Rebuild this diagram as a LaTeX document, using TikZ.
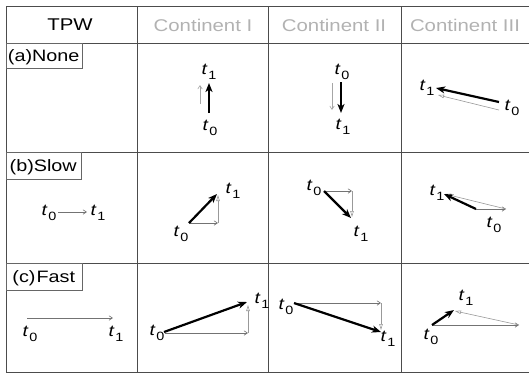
\documentclass[tikz,border=0pt]{standalone}
\usepackage{fontspec}
\setmainfont{Liberation Sans}[FakeStretch=1.2]
\usetikzlibrary{arrows.meta}
\newcommand\tlab[1]{\textit{t}\kern0.6pt\raisebox{-0.55ex}{\fontsize{12}{12}\selectfont #1}}
\tikzset{
  gridline/.style={draw=black!70, line width=0.7pt},
  hdr/.style={text=black!30, font=\fontsize{17}{19}\selectfont, inner sep=0pt},
  hdrtpw/.style={text=black, font=\fontsize{17}{19}\selectfont, inner sep=0pt},
  labbox/.style={draw=black!60, line width=0.5pt, font=\fontsize{16.5}{18}\selectfont, anchor=north west, inner sep=0pt, minimum height=25pt, text depth=0pt},
  tl/.style={font=\fontsize{16}{18}\selectfont, inner sep=0pt},
  bigarr/.style={line width=2.2pt, -{Stealth[length=9pt,width=7pt,inset=2.5pt]}},
  thinarr/.style={draw=black!55, line width=0.6pt, -{Straight Barb[length=3.5pt,width=4.5pt]}},
  hollarr/.style={draw=black!40, line width=0.6pt, -{Triangle[open,length=6pt,width=3.5pt]}}
}
\begin{document}
\begin{tikzpicture}[x=1pt,y=-1pt]
\useasboundingbox (0,0) rectangle (529,373);
% grid
\draw[gridline] (6,6) -- (529,6);
\draw[gridline] (6,43) -- (529,43);
\draw[gridline] (6,152) -- (529,152);
\draw[gridline] (6,263) -- (529,263);
\draw[gridline] (6,372) -- (529,372);
\draw[gridline] (6,6) -- (6,372);
\draw[gridline] (137,6) -- (137,372);
\draw[gridline] (268,6) -- (268,372);
\draw[gridline] (401,6) -- (401,372);
% header
\node[hdrtpw] (htpw) at (70,25) {TPW};
\node[hdr] (h1) at (203,25) {Continent I};
\node[hdr] (h2) at (334,25) {Continent II};
\node[hdr] (h3) at (465,25) {Continent III};
% row labels
\node[labbox, minimum width=76pt] (la) at (6,43) {(a)None\kern1pt};
\node[labbox, minimum width=75pt, minimum height=27pt] (lb) at (6,152) {(b)Slow\kern1pt};
\node[labbox, minimum width=76pt, minimum height=27pt] (lc) at (6,263) {(c)\kern1pt Fast\kern1pt};

% ---- Row a ----
% Continent I
\node[tl] (a1t1) at (209,72) {\tlab{1}};
\node[tl] (a1t0) at (210,128) {\tlab{0}};
\coordinate (a1s) at (209,113); \coordinate (a1e) at (209,83);
\coordinate (a1gs) at (200,104); \coordinate (a1ge) at (200,85);
\draw[thinarr, draw=black!35] (a1gs) -- (a1ge);
\draw[bigarr] (a1s) -- (a1e);
% Continent II
\node[tl] (a2t0) at (342,72) {\tlab{0}};
\node[tl] (a2t1) at (343,127) {\tlab{1}};
\coordinate (a2s) at (341,82); \coordinate (a2e) at (341,113);
\coordinate (a2gs) at (332,83); \coordinate (a2ge) at (332,110);
\draw[thinarr, draw=black!35] (a2gs) -- (a2ge);
\draw[bigarr] (a2s) -- (a2e);
% Continent III
\node[tl] (a3t1) at (427,88) {\tlab{1}};
\node[tl] (a3t0) at (512,108) {\tlab{0}};
\coordinate (a3s) at (499,102); \coordinate (a3e) at (436,88);
\coordinate (a3gs) at (499,110); \coordinate (a3ge) at (438,95);
\draw[hollarr] (a3gs) -- (a3ge);
\draw[bigarr] (a3s) -- (a3e);

% ---- Row b ----
% TPW
\node[tl] (b0t0) at (49,213) {\tlab{0}};
\node[tl] (b0t1) at (98,213) {\tlab{1}};
\coordinate (b0s) at (58,212); \coordinate (b0e) at (87,212);
\draw[thinarr] (b0s) -- (b0e);
% Continent I
\node[tl] (b1t0) at (181,234) {\tlab{0}};
\node[tl] (b1t1) at (233,191) {\tlab{1}};
\coordinate (b1s) at (189,223); \coordinate (b1m) at (218,223); \coordinate (b1e) at (217,194);
\draw[thinarr] (b1s) -- (b1m);
\draw[hollarr] (b1m) -- (218,195);
\draw[bigarr] (b1s) -- (b1e);
% Continent II
\node[tl] (b2t0) at (314,188) {\tlab{0}};
\node[tl] (b2t1) at (361,234) {\tlab{1}};
\coordinate (b2s) at (324,191); \coordinate (b2m) at (352,191); \coordinate (b2e) at (351,218);
\draw[thinarr] (b2s) -- (b2m);
\draw[hollarr] (b2m) -- (352,217);
\draw[bigarr] (b2s) -- (b2e);
% Continent III
\node[tl] (b3t1) at (437,193) {\tlab{1}};
\node[tl] (b3t0) at (494,225) {\tlab{0}};
\coordinate (b3s) at (476,209); \coordinate (b3m) at (506,209); \coordinate (b3e) at (444,194);
\draw[thinarr] (b3s) -- (b3m);
\draw[hollarr] (b3m) -- (445,194);
\draw[bigarr] (b3s) -- (b3e);

% ---- Row c ----
% TPW
\node[tl] (c0t0) at (30,334) {\tlab{0}};
\node[tl] (c0t1) at (116,334) {\tlab{1}};
\coordinate (c0s) at (27,318); \coordinate (c0e) at (113,318);
\draw[thinarr] (c0s) -- (c0e);
% Continent I
\node[tl] (c1t0) at (157,333) {\tlab{0}};
\node[tl] (c1t1) at (262,301) {\tlab{1}};
\coordinate (c1s) at (164,332); \coordinate (c1m) at (248,333); \coordinate (c1e) at (247,302);
\draw[thinarr] (165,333) -- (c1m);
\draw[hollarr] (c1m) -- (248,305);
\draw[bigarr] (c1s) -- (c1e);
% Continent II
\node[tl] (c2t0) at (286,307) {\tlab{0}};
\node[tl] (c2t1) at (388,339) {\tlab{1}};
\coordinate (c2s) at (294,303); \coordinate (c2m) at (381,303); \coordinate (c2e) at (381,332);
\draw[thinarr] (c2s) -- (c2m);
\draw[hollarr] (c2m) -- (381,330);
\draw[bigarr] (c2s) -- (c2e);
% Continent III
\node[tl] (c3t0) at (431,337) {\tlab{0}};
\node[tl] (c3t1) at (466,298) {\tlab{1}};
\coordinate (c3s) at (432,325); \coordinate (c3m) at (519,325); \coordinate (c3e) at (454,310);
\draw[thinarr] (c3s) -- (c3m);
\draw[hollarr] (c3m) -- (455,311);
\draw[bigarr] (c3s) -- (c3e);
\end{tikzpicture}
\end{document}
